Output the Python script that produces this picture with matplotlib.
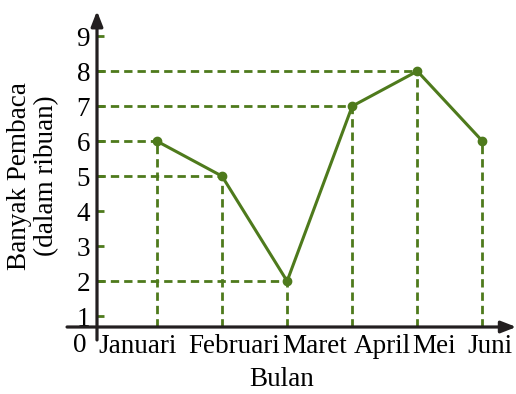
import matplotlib.pyplot as plt
from matplotlib.transforms import ScaledTranslation

months = ['Januari', 'Februari', 'Maret', 'April', 'Mei', 'Juni']
readers = [6, 5, 2, 7, 8, 6]
y_ticks = [1, 2, 3, 4, 5, 6, 7, 8, 9]

green = '#4e7a1c'
plt.rcParams['font.family'] = ['Liberation Serif', 'DejaVu Serif']
fs = 19.5

fig = plt.figure(figsize=(5.16, 3.94), dpi=100)
ax = fig.add_axes([97 / 516, 67 / 394, 418 / 516, 315 / 394])
x = list(range(1, len(months) + 1))
x0, y0 = 0.08, 0.69
ax.set_xlim(x0, 6.5)
ax.set_ylim(y0, 9.69)

# guide lines
for i, (xi, yi) in enumerate(zip(x, readers)):
    ax.plot([xi, xi], [y0, yi], color=green, lw=2, ls=(0, (3, 1.8)), zorder=1)
    if i < len(x) - 1:
        ax.plot([x0, xi], [yi, yi], color=green, lw=2, ls=(0, (3, 1.8)), zorder=1)

ax.plot(x, readers, color=green, lw=2.2, marker='o', ms=6, zorder=3)

# axes with arrows
for s in ax.spines.values():
    s.set_visible(False)
ax.annotate('', xy=(6.52, y0), xytext=(-0.38, y0),
            arrowprops=dict(arrowstyle='-|>,head_length=0.9,head_width=0.35',
                            color='#231f20', lw=2.3, shrinkA=0, shrinkB=0),
            annotation_clip=False, zorder=4)
ax.annotate('', xy=(x0, 9.72), xytext=(x0, 0.32),
            arrowprops=dict(arrowstyle='-|>,head_length=0.9,head_width=0.35',
                            color='#231f20', lw=2.3, shrinkA=0, shrinkB=0),
            annotation_clip=False, zorder=4)

ax.set_yticks(y_ticks)
ax.set_yticklabels([str(v) for v in y_ticks], fontsize=fs)
ax.tick_params(axis='y', length=5, width=2, color=green, pad=5, direction='in')
ax.set_xticks(x)
ax.set_xticklabels(months, fontsize=fs)
ax.tick_params(axis='x', length=0, pad=5)
offsets = [-19, 12, 28, 30, 17, 7]
for lab, dx in zip(ax.get_xticklabels(), offsets):
    lab.set_transform(lab.get_transform() + ScaledTranslation(dx / 100, 0, fig.dpi_scale_trans))

ax.annotate('0', xy=(x0, y0), xytext=(-17, -18), textcoords='offset pixels',
            fontsize=fs, ha='center', va='center')

fig.text(282 / 516, 1 - 380 / 394, 'Bulan', fontsize=fs, ha='center', va='center')
fig.text(33 / 516, 1 - 176 / 394, 'Banyak Pembaca\n(dalam ribuan)', fontsize=fs,
         ha='center', va='center', rotation=90, linespacing=1.15)

fig.savefig('out.png', dpi=100)
